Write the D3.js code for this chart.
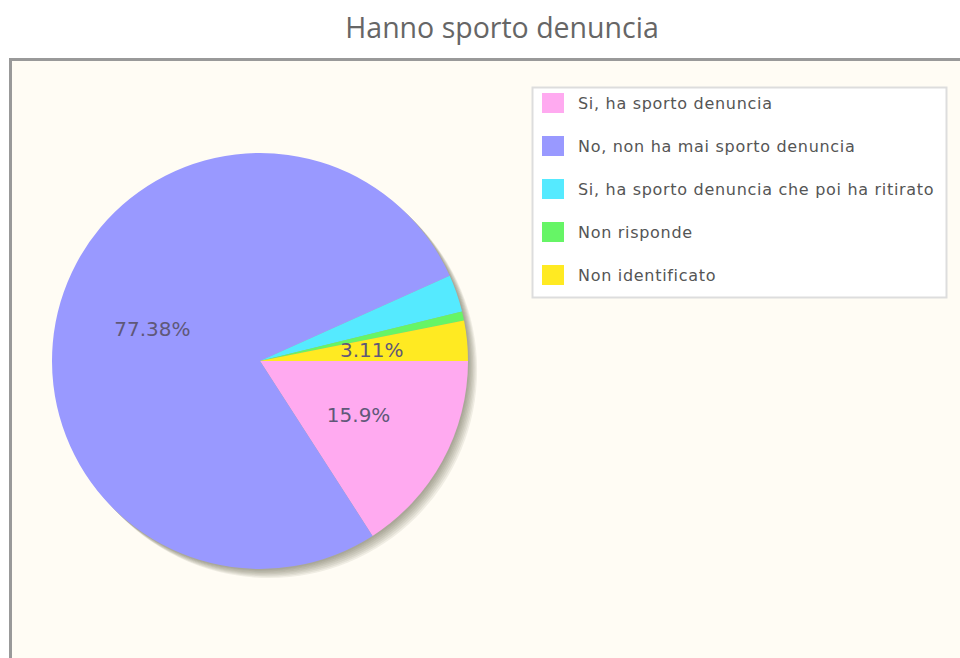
<!DOCTYPE html>
<html>
<head>
<meta charset="utf-8">
<script src="https://cdn.jsdelivr.net/npm/d3@7"></script>
<style>
  html, body { margin: 0; padding: 0; background: #ffffff; }
  svg { display: block; }
</style>
</head>
<body>
<svg id="chart" width="960" height="658"></svg>
<script>
// Survey answers and their shares (percent)
const categories = [
  "Si, ha sporto denuncia",
  "No, non ha mai sporto denuncia",
  "Si, ha sporto denuncia che poi ha ritirato",
  "Non risponde",
  "Non identificato"
];
const values = [15.9, 77.38, 2.9, 0.71, 3.11];
const colors = ["#ffaaf0", "#9999ff", "#55eaff", "#66f566", "#ffea22"];
const title = "Hanno sporto denuncia";
const labelThreshold = 3; // slices below this share get no label

const svg = d3.select("#chart");
const W = 960, H = 658;

// title
svg.append("text")
  .attr("x", 502).attr("y", 38)
  .attr("text-anchor", "middle")
  .attr("font-family", "'Open Sans', 'DejaVu Sans', sans-serif")
  .attr("font-size", 28.5)
  .attr("fill", "#666")
  .text(title);

// plot area frame
svg.append("rect")
  .attr("x", 10.5).attr("y", 59.5)
  .attr("width", W + 20).attr("height", H)
  .attr("fill", "#fffcf4")
  .attr("stroke", "#999").attr("stroke-width", 3);

const cx = 260, cy = 361, R = 208;
const g = svg.append("g").attr("transform", `translate(${cx},${cy})`);

// pie: starts at 3 o'clock, runs clockwise
const pie = d3.pie().sort(null).value(d => d)
  .startAngle(Math.PI / 2).endAngle(Math.PI / 2 + 2 * Math.PI);
const arcs = pie(values);
const arc = d3.arc().innerRadius(0).outerRadius(R);

// soft drop shadow towards the lower right
const shadow = svg.insert("g", "g").attr("transform", `translate(${cx},${cy})`);
for (let k = 1; k <= 7; k++) {
  shadow.append("circle")
    .attr("cx", k * 1.3).attr("cy", k * 1.3)
    .attr("r", R)
    .attr("fill", "#3a3a20")
    .attr("fill-opacity", 0.08);
}

g.selectAll("path.slice")
  .data(arcs)
  .join("path")
  .attr("class", "slice")
  .attr("d", arc)
  .attr("fill", (d, i) => colors[i]);

// data labels at a fixed fraction of the radius
const labelArc = d3.arc().innerRadius(R * 0.54).outerRadius(R * 0.54);
g.selectAll("text.lbl")
  .data(arcs.filter(d => d.data >= labelThreshold))
  .join("text")
  .attr("class", "lbl")
  .attr("transform", d => `translate(${labelArc.centroid(d)})`)
  .attr("text-anchor", "middle")
  .attr("dy", "0.35em")
  .attr("font-family", "'DejaVu Sans', sans-serif")
  .attr("font-size", 20)
  .attr("fill", "#5f5878")
  .text(d => d.data + "%");

// legend
const lg = svg.append("g");
lg.append("rect")
  .attr("x", 532.5).attr("y", 87.5)
  .attr("width", 414).attr("height", 210)
  .attr("fill", "#ffffff")
  .attr("stroke", "#dddddd").attr("stroke-width", 2);

const rowY = d3.scalePoint().domain(categories).range([103, 275]);
const rows = lg.selectAll("g.row")
  .data(categories)
  .join("g")
  .attr("class", "row")
  .attr("transform", d => `translate(0,${rowY(d)})`);
rows.append("rect")
  .attr("x", 542).attr("y", -10)
  .attr("width", 22).attr("height", 20)
  .attr("fill", (d, i) => colors[i]);
rows.append("text")
  .attr("x", 578).attr("dy", "0.35em")
  .attr("font-family", "'DejaVu Sans', sans-serif")
  .attr("font-size", 16)
  .attr("letter-spacing", 0.7)
  .attr("fill", "#555")
  .text(d => d);
</script>
</body>
</html>
